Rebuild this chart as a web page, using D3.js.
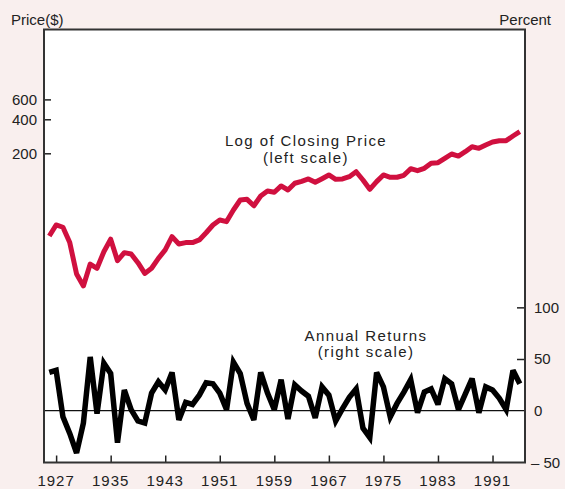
<!DOCTYPE html>
<html>
<head>
<meta charset="utf-8">
<script src="https://cdn.jsdelivr.net/npm/d3@7"></script>
<style>
  html, body { margin: 0; padding: 0; background: #f9efee; }
  svg { display: block; font-family: 'Liberation Sans', Arial, sans-serif; }
</style>
</head>
<body>
<svg id="chart" width="565" height="489"></svg>
<script>
const years = [
  1926, 1927, 1928, 1929, 1930, 1931, 1932, 1933, 1934, 1935,
  1936, 1937, 1938, 1939, 1940, 1941, 1942, 1943, 1944, 1945,
  1946, 1947, 1948, 1949, 1950, 1951, 1952, 1953, 1954, 1955,
  1956, 1957, 1958, 1959, 1960, 1961, 1962, 1963, 1964, 1965,
  1966, 1967, 1968, 1969, 1970, 1971, 1972, 1973, 1974, 1975,
  1976, 1977, 1978, 1979, 1980, 1981, 1982, 1983, 1984, 1985,
  1986, 1987, 1988, 1989, 1990, 1991, 1992, 1993, 1994, 1995,
];

// closing price ($), left log scale
const closingPrice = [
  37.1, 46.4, 44.3, 32.4, 17.1, 13.4, 20.9, 19.2, 26.9, 34.7,
  22.4, 26.4, 25.7, 21.5, 17.3, 19.2, 23.5, 27.9, 36.6, 31.5,
  32.4, 32.4, 34.2, 39.6, 46.4, 51.4, 49.7, 63.0, 77.2, 78.3,
  68.7, 83.8, 92.8, 90.4, 102.8, 94.7, 108.6, 113, 118.6, 110.7,
  119.2, 128.6, 117.8, 118.6, 124.2, 137.4, 116.1, 96.0, 112.2, 128.6,
  122.7, 122.7, 127.7, 146.2, 140.3, 147.3, 163.3, 165.2, 180.6, 197.2,
  189.2, 206.5, 228.7, 221.3, 236.8, 251.8, 258.7, 258.7, 284.5, 310.6,
];

// annual returns (percent), right scale
const annualReturns = [
  37, 39, -6, -22, -41, -12, 52, -3, 46, 36,
  -31, 20, 1, -10, -12, 17, 28, 20, 37, -9,
  8, 6, 15, 27, 26, 17, 1, 47, 36, 7,
  -9, 37, 17, 1, 30, -8, 25, 19, 14, -7,
  23, 15, -10, 2, 13, 21, -17, -26, 37, 23,
  -6, 7, 18, 30, -2, 18, 21, 6, 31, 26,
  1, 16, 31, -2, 23, 20, 12, 1, 39, 26,
];

const yearTicks = [1927, 1935, 1943, 1951, 1959, 1967, 1975, 1983, 1991];
const priceTicks = [200, 400, 600];
const returnTicks = [100, 50, 0, -50];

const plot = { left: 44, right: 525, top: 29.5, bottom: 462.5 };

const svg = d3.select('#chart');

const x = d3.scaleLinear().domain([1926, 1995]).range([49.3, 519.8]);
const yPrice = d3.scaleLog().domain([200, 600]).range([153.3, 99.4]);
const yReturn = d3.scaleLinear().domain([-50, 50]).range([462.3, 359]);

svg.append('rect')
  .attr('x', plot.left)
  .attr('y', plot.top)
  .attr('width', plot.right - plot.left)
  .attr('height', plot.bottom - plot.top)
  .attr('fill', '#ffffff');

// zero line for returns
svg.append('line')
  .attr('x1', plot.left)
  .attr('x2', plot.right)
  .attr('y1', yReturn(0))
  .attr('y2', yReturn(0))
  .attr('stroke', '#111')
  .attr('stroke-width', 1.2);

// left axis ticks (inside)
svg.append('g')
  .attr('transform', `translate(${plot.left},0)`)
  .call(d3.axisRight(yPrice).tickValues(priceTicks).tickSize(7).tickFormat(''))
  .call((g) => g.select('.domain').remove())
  .call((g) => g.selectAll('line').attr('stroke', '#222').attr('stroke-width', 1.5));

svg.append('g')
  .selectAll('text')
  .data(priceTicks)
  .enter()
  .append('text')
  .attr('x', 37)
  .attr('y', (d) => yPrice(d))
  .attr('dy', '0.36em')
  .attr('text-anchor', 'end')
  .attr('font-size', 15)
  .attr('fill', '#222')
  .text((d) => d);

// right axis ticks (inside)
svg.append('g')
  .attr('transform', `translate(${plot.right},0)`)
  .call(d3.axisLeft(yReturn).tickValues([100, 50]).tickSize(8).tickFormat(''))
  .call((g) => g.select('.domain').remove())
  .call((g) => g.selectAll('line').attr('stroke', '#222').attr('stroke-width', 1.5));

svg.append('g')
  .selectAll('text')
  .data(returnTicks)
  .enter()
  .append('text')
  .attr('x', (d) => (d < 0 ? 531 : 534))
  .attr('y', (d) => yReturn(d))
  .attr('dy', '0.36em')
  .attr('font-size', 15)
  .attr('fill', '#222')
  .text((d) => (d < 0 ? `\u2013 ${-d}` : d));

// bottom axis ticks (inside)
svg.append('g')
  .attr('transform', `translate(0,${plot.bottom})`)
  .call(d3.axisTop(x).tickValues(yearTicks).tickSize(7).tickFormat(''))
  .call((g) => g.select('.domain').remove())
  .call((g) => g.selectAll('line').attr('stroke', '#222').attr('stroke-width', 1.5));

svg.append('g')
  .selectAll('text')
  .data(yearTicks)
  .enter()
  .append('text')
  .attr('x', (d) => x(d))
  .attr('y', 486)
  .attr('text-anchor', 'middle')
  .attr('font-size', 15)
  .attr('letter-spacing', 1)
  .attr('fill', '#222')
  .text((d) => d);

// lines
const priceLine = d3.line()
  .x((d, i) => x(years[i]))
  .y((d) => yPrice(d));

const returnLine = d3.line()
  .x((d, i) => x(years[i]))
  .y((d) => yReturn(d));

svg.append('path')
  .datum(closingPrice)
  .attr('d', priceLine)
  .attr('fill', 'none')
  .attr('stroke', '#d0103f')
  .attr('stroke-width', 5)
  .attr('stroke-linejoin', 'round');

svg.append('path')
  .datum(annualReturns)
  .attr('d', returnLine)
  .attr('fill', 'none')
  .attr('stroke', '#000000')
  .attr('stroke-width', 5.5)
  .attr('stroke-linejoin', 'miter')
  .attr('stroke-miterlimit', 3);

// frame
svg.append('rect')
  .attr('x', plot.left)
  .attr('y', plot.top)
  .attr('width', plot.right - plot.left)
  .attr('height', plot.bottom - plot.top)
  .attr('fill', 'none')
  .attr('stroke', '#333')
  .attr('stroke-width', 2);

// axis titles
svg.append('text')
  .attr('x', 11)
  .attr('y', 25)
  .attr('font-size', 15)
  .attr('fill', '#222')
  .text('Price($)');

svg.append('text')
  .attr('x', 551)
  .attr('y', 25)
  .attr('text-anchor', 'end')
  .attr('font-size', 15)
  .attr('fill', '#222')
  .text('Percent');

// series labels
const labels = [
  { text: 'Log of Closing Price', x: 306, y: 146 },
  { text: '(left scale)', x: 306, y: 162.5 },
  { text: 'Annual Returns', x: 366, y: 340.5 },
  { text: '(right scale)', x: 366, y: 357 },
];

svg.append('g')
  .selectAll('text')
  .data(labels)
  .enter()
  .append('text')
  .attr('x', (d) => d.x)
  .attr('y', (d) => d.y)
  .attr('text-anchor', 'middle')
  .attr('font-size', 15)
  .attr('letter-spacing', 1.4)
  .attr('fill', '#222')
  .text((d) => d.text);
</script>
</body>
</html>
